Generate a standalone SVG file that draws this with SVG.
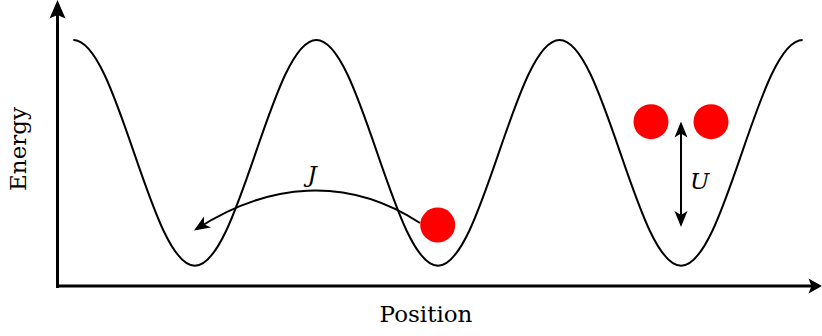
<svg xmlns="http://www.w3.org/2000/svg" width="822" height="336" viewBox="0 0 822 336">
  <style>
    .txt { font-family: "DejaVu Serif", "Liberation Serif", serif; font-size: 23px; fill: #000; }
    .it { font-style: italic; }
    .axis { stroke: #000; stroke-width: 3; fill: none; }
    .curve { stroke: #000; stroke-width: 2; fill: none; }
    .ball { fill: #FF0000; }
    .conn { stroke: #000; stroke-width: 2; fill: none; }
  </style>
  <defs>
    <marker id="stealth" markerUnits="userSpaceOnUse" markerWidth="20" markerHeight="16" viewBox="-17 -8 20 16" refX="0" refY="0" orient="auto-start-reverse">
      <path d="M3,0 L-13,-6.5 L-9,0 L-13,6.5 Z" fill="#000"/>
    </marker>
  </defs>
  <rect width="822" height="336" fill="#fff"/>

  <g id="axes">
    <line class="axis" x1="57.5" y1="288" x2="57.5" y2="14"/>
    <polygon points="57.5,0 65.5,18.5 57.5,15 49.5,18.5" fill="#000"/>
    <line class="axis" x1="56" y1="286" x2="812" y2="286"/>
    <polygon points="822,286 808.5,278.5 811.5,286 808.5,293.5" fill="#000"/>
  </g>

  <g id="potential">
    <path class="curve" d="M73.3,40
      c 21.99,0 40.95,55.04 60.78,112.85 c 19.83,57.81 38.79,112.85 60.78,112.85 c 21.99,0 40.95,-55.04 60.78,-112.85 c 19.83,-57.81 38.79,-112.85 60.78,-112.85
      c 21.99,0 40.95,55.04 60.78,112.85 c 19.83,57.81 38.79,112.85 60.78,112.85 c 21.99,0 40.95,-55.04 60.78,-112.85 c 19.83,-57.81 38.79,-112.85 60.78,-112.85
      c 21.99,0 40.95,55.04 60.78,112.85 c 19.83,57.81 38.79,112.85 60.78,112.85 c 21.99,0 40.95,-55.04 60.78,-112.85 c 19.83,-57.81 38.79,-112.85 60.78,-112.85"/>
  </g>

  <g id="connectors">
    <path id="hop" class="conn" d="M420,223 C 346,175 268,183 196.5,229" marker-end="url(#stealth)"/>
    <line id="interaction" class="conn" x1="681" y1="124.5" x2="681" y2="224" marker-start="url(#stealth)" marker-end="url(#stealth)"/>
  </g>

  <g id="particle1">
    <circle class="ball" cx="437.7" cy="225" r="17.5"/>
  </g>
  <g id="particle2">
    <circle class="ball" cx="651" cy="121.7" r="17.5"/>
  </g>
  <g id="particle3">
    <circle class="ball" cx="711" cy="121.7" r="17.5"/>
  </g>

  <g id="label-J">
    <text class="txt it" x="312" y="182" text-anchor="middle">J</text>
  </g>
  <g id="label-U">
    <text class="txt it" x="690" y="188.5">U</text>
  </g>
  <g id="label-energy">
    <text class="txt" transform="translate(26,149) rotate(-90)" text-anchor="middle">Energy</text>
  </g>
  <g id="label-position">
    <text class="txt" x="426" y="321.7" text-anchor="middle">Position</text>
  </g>
</svg>
